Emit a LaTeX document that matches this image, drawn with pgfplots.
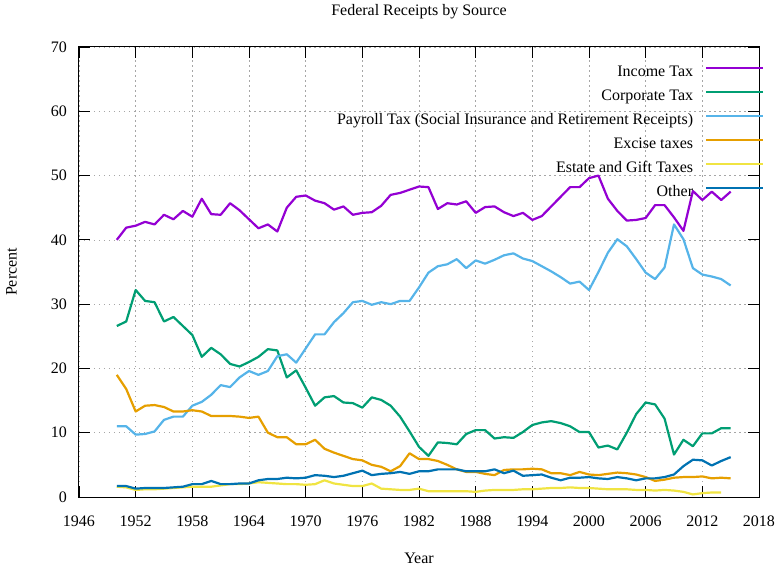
\documentclass[border=0pt]{standalone}
\usepackage{fontspec}
\setmainfont{Liberation Serif}
\usepackage{pgfplots}
\pgfplotsset{compat=1.18}
\definecolor{cInc}{HTML}{9400D3}
\definecolor{cCor}{HTML}{009E73}
\definecolor{cPay}{HTML}{56B4E9}
\definecolor{cExc}{HTML}{E69F00}
\definecolor{cEst}{HTML}{F0E442}
\definecolor{cOth}{HTML}{0072B2}
\begin{document}
\fontsize{16bp}{19bp}\selectfont
\begin{tikzpicture}
\useasboundingbox (-79bp,-68bp) rectangle (698bp,497bp);
\begin{axis}[
  at={(0,0)}, anchor=south west,
  scale only axis, width=680bp, height=450bp,
  xmin=1946, xmax=2018, ymin=0, ymax=70,
  xtick={1946,1952,...,2018}, ytick={0,10,...,70},
  minor x tick num=5,
  tick align=inside,
  major tick length=11bp, minor tick length=6bp,
  tick style={black, line width=0.8bp},
  axis line style={black, line width=1bp},
  grid=major,
  grid style={gray!70, line width=0.7bp, dash pattern=on 1.5bp off 3.5bp},
  /pgf/number format/assume math mode=true,
  /pgf/number format/1000 sep={},
  xticklabel style={inner sep=0pt},
  yticklabel style={inner sep=0pt},
  xticklabel shift=18.5bp,
  yticklabel shift=12bp,
  every axis title shift=0pt,
  title={Federal Receipts by Source},
  title style={at={(axis description cs:0.5,1.0689)}, anchor=base, inner sep=0pt},
  xlabel={Year},
  xlabel style={at={(axis description cs:0.5,-0.1467)}, anchor=base, inner sep=0pt},
  ylabel={Percent},
  ylabel style={at={(axis description cs:-0.0919,0.5)}, anchor=base, rotate=0, inner sep=0pt},
  legend style={draw=none, fill=none, at={(1,1)}, anchor=north east, xshift=5.5bp, yshift=-18bp,
    inner sep=0pt, row sep=9bp, column sep=12bp,
    nodes={inner sep=0pt, text height=11bp, text depth=4bp}},
  legend cell align=right,
  legend plot pos=right,
  legend image code/.code={\draw[#1] (0bp,5bp) -- (57bp,5bp);},
  every axis plot/.append style={line width=2.2bp, line join=round},
]
\addplot[cInc] coordinates {
(1950,40.0) (1951,41.9) (1952,42.2) (1953,42.8) (1954,42.4) (1955,43.9) (1956,43.2) (1957,44.5) (1958,43.6) (1959,46.4)
(1960,44.0) (1961,43.9) (1962,45.7) (1963,44.6) (1964,43.2) (1965,41.8) (1966,42.4) (1967,41.3) (1968,45.0) (1969,46.7)
(1970,46.9) (1971,46.1) (1972,45.7) (1973,44.7) (1974,45.2) (1975,43.9) (1976,44.2) (1977,44.3) (1978,45.3) (1979,47.0)
(1980,47.3) (1981,47.8) (1982,48.3) (1983,48.2) (1984,44.8) (1985,45.7) (1986,45.5) (1987,46.0) (1988,44.2) (1989,45.1)
(1990,45.2) (1991,44.3) (1992,43.7) (1993,44.2) (1994,43.1) (1995,43.7) (1996,45.2) (1997,46.7) (1998,48.2) (1999,48.2)
(2000,49.6) (2001,50.0) (2002,46.4) (2003,44.5) (2004,43.0) (2005,43.1) (2006,43.4) (2007,45.4) (2008,45.4) (2009,43.5)
(2010,41.4) (2011,47.6) (2012,46.2) (2013,47.5) (2014,46.2) (2015,47.5)};
\addlegendentry{Income Tax}
\addplot[cCor] coordinates {
(1950,26.6) (1951,27.3) (1952,32.2) (1953,30.5) (1954,30.3) (1955,27.3) (1956,28.0) (1957,26.6) (1958,25.2) (1959,21.8)
(1960,23.2) (1961,22.2) (1962,20.7) (1963,20.3) (1964,21.0) (1965,21.8) (1966,23.0) (1967,22.8) (1968,18.6) (1969,19.7)
(1970,17.0) (1971,14.2) (1972,15.5) (1973,15.7) (1974,14.7) (1975,14.6) (1976,13.9) (1977,15.5) (1978,15.1) (1979,14.2)
(1980,12.5) (1981,10.2) (1982,7.8) (1983,6.4) (1984,8.5) (1985,8.4) (1986,8.2) (1987,9.8) (1988,10.4) (1989,10.4)
(1990,9.1) (1991,9.3) (1992,9.2) (1993,10.1) (1994,11.2) (1995,11.6) (1996,11.8) (1997,11.5) (1998,11.0) (1999,10.1)
(2000,10.1) (2001,7.7) (2002,8.0) (2003,7.4) (2004,10.0) (2005,12.9) (2006,14.7) (2007,14.4) (2008,12.2) (2009,6.6)
(2010,8.9) (2011,7.9) (2012,9.9) (2013,9.9) (2014,10.7) (2015,10.7)};
\addlegendentry{Corporate Tax}
\addplot[cPay] coordinates {
(1950,11.0) (1951,11.0) (1952,9.7) (1953,9.8) (1954,10.2) (1955,12.0) (1956,12.5) (1957,12.5) (1958,14.2) (1959,14.8)
(1960,15.9) (1961,17.4) (1962,17.1) (1963,18.6) (1964,19.6) (1965,19.0) (1966,19.6) (1967,21.9) (1968,22.2) (1969,20.9)
(1970,23.1) (1971,25.3) (1972,25.3) (1973,27.2) (1974,28.6) (1975,30.3) (1976,30.5) (1977,29.9) (1978,30.3) (1979,30.0)
(1980,30.5) (1981,30.5) (1982,32.6) (1983,34.9) (1984,35.9) (1985,36.2) (1986,37.0) (1987,35.6) (1988,36.8) (1989,36.3)
(1990,36.9) (1991,37.6) (1992,37.9) (1993,37.1) (1994,36.7) (1995,35.9) (1996,35.1) (1997,34.2) (1998,33.2) (1999,33.5)
(2000,32.2) (2001,35.0) (2002,38.0) (2003,40.1) (2004,39.0) (2005,37.0) (2006,34.9) (2007,33.9) (2008,35.7) (2009,42.4)
(2010,40.1) (2011,35.6) (2012,34.6) (2013,34.3) (2014,33.9) (2015,32.9)};
\addlegendentry{Payroll Tax (Social Insurance and Retirement Receipts)}
\addplot[cExc] coordinates {
(1950,19.0) (1951,16.8) (1952,13.3) (1953,14.2) (1954,14.3) (1955,14.0) (1956,13.3) (1957,13.3) (1958,13.5) (1959,13.3)
(1960,12.6) (1961,12.6) (1962,12.6) (1963,12.5) (1964,12.3) (1965,12.5) (1966,10.0) (1967,9.3) (1968,9.3) (1969,8.2)
(1970,8.2) (1971,8.9) (1972,7.5) (1973,6.9) (1974,6.4) (1975,5.9) (1976,5.7) (1977,5.0) (1978,4.7) (1979,4.0)
(1980,4.8) (1981,6.8) (1982,5.9) (1983,5.9) (1984,5.6) (1985,5.0) (1986,4.3) (1987,3.9) (1988,3.9) (1989,3.6)
(1990,3.4) (1991,4.2) (1992,4.3) (1993,4.3) (1994,4.4) (1995,4.3) (1996,3.7) (1997,3.7) (1998,3.4) (1999,3.9)
(2000,3.5) (2001,3.4) (2002,3.6) (2003,3.8) (2004,3.7) (2005,3.5) (2006,3.1) (2007,2.5) (2008,2.7) (2009,3.0)
(2010,3.1) (2011,3.1) (2012,3.2) (2013,2.9) (2014,3.0) (2015,2.9)};
\addlegendentry{Excise taxes}
\addplot[cEst] coordinates {
(1950,1.6) (1951,1.5) (1952,1.1) (1953,1.2) (1954,1.2) (1955,1.3) (1956,1.4) (1957,1.5) (1958,1.6) (1959,1.6)
(1960,1.6) (1961,1.8) (1962,2.0) (1963,2.0) (1964,2.1) (1965,2.3) (1966,2.2) (1967,2.1) (1968,2.0) (1969,2.0)
(1970,1.9) (1971,2.0) (1972,2.6) (1973,2.1) (1974,1.9) (1975,1.7) (1976,1.7) (1977,2.1) (1978,1.3) (1979,1.2)
(1980,1.1) (1981,1.1) (1982,1.3) (1983,0.9) (1984,0.9) (1985,0.9) (1986,0.9) (1987,0.9) (1988,0.8) (1989,1.0)
(1990,1.1) (1991,1.1) (1992,1.1) (1993,1.2) (1994,1.2) (1995,1.3) (1996,1.4) (1997,1.4) (1998,1.5) (1999,1.4)
(2000,1.4) (2001,1.3) (2002,1.2) (2003,1.2) (2004,1.2) (2005,1.1) (2006,1.1) (2007,1.0) (2008,1.1) (2009,1.0)
(2010,0.8) (2011,0.4) (2012,0.6) (2013,0.7) (2014,0.7)};
\addlegendentry{Estate and Gift Taxes}
\addplot[cOth] coordinates {
(1950,1.7) (1951,1.7) (1952,1.3) (1953,1.4) (1954,1.4) (1955,1.4) (1956,1.5) (1957,1.6) (1958,2.0) (1959,2.0)
(1960,2.5) (1961,2.0) (1962,2.0) (1963,2.1) (1964,2.1) (1965,2.6) (1966,2.8) (1967,2.8) (1968,3.0) (1969,2.9)
(1970,3.0) (1971,3.4) (1972,3.3) (1973,3.1) (1974,3.3) (1975,3.7) (1976,4.1) (1977,3.4) (1978,3.6) (1979,3.7)
(1980,3.9) (1981,3.6) (1982,4.0) (1983,4.0) (1984,4.3) (1985,4.3) (1986,4.3) (1987,4.0) (1988,4.0) (1989,4.0)
(1990,4.3) (1991,3.7) (1992,4.1) (1993,3.3) (1994,3.4) (1995,3.5) (1996,3.0) (1997,2.6) (1998,3.0) (1999,3.0)
(2000,3.1) (2001,2.9) (2002,2.8) (2003,3.1) (2004,2.9) (2005,2.6) (2006,2.9) (2007,2.9) (2008,3.1) (2009,3.5)
(2010,4.8) (2011,5.8) (2012,5.7) (2013,4.9) (2014,5.6) (2015,6.2)};
\addlegendentry{Other}
\end{axis}
\end{tikzpicture}
\end{document}
